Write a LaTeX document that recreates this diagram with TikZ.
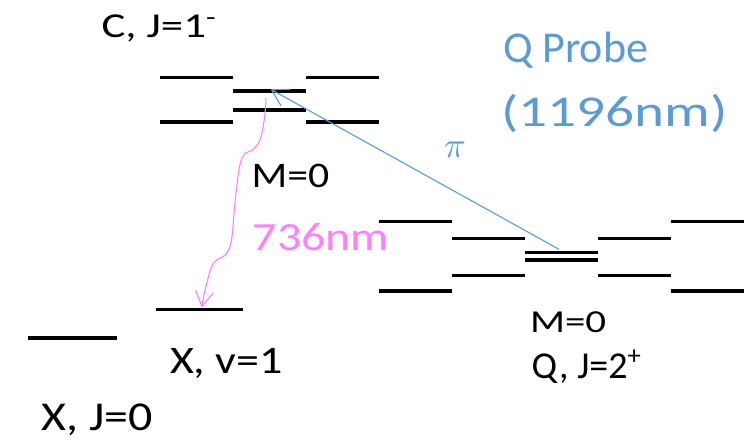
\documentclass[tikz,border=0pt]{standalone}
\usepackage{fontspec}
\usepackage{unicode-math}
\setmainfont{Carlito}
\setmathfont{Latin Modern Math}
\usetikzlibrary{arrows.meta}
\definecolor{probeblue}{RGB}{91,155,213}
\definecolor{decaypink}{RGB}{255,128,255}
\tikzset{
  lvl/.style={line width=3.4pt},
  lbl/.style={anchor=base west, inner sep=0pt, outer sep=0pt},
  probe/.style={draw=probeblue, line width=1.1pt, -{Straight Barb[length=16pt,width=19pt,line width=1.1pt]}},
  decay/.style={draw=decaypink, line width=1.1pt, -{Straight Barb[length=15pt,width=18pt,line width=1.1pt]}},
}
\begin{document}
\begin{tikzpicture}[x=1pt,y=-1pt]
\useasboundingbox (0,0) rectangle (746,441);
% C, J=1- levels
\draw[lvl] (160,77.7) -- (233,77.7);
\draw[lvl] (160,122) -- (233,122);
\draw[lvl] (233,91) -- (306,91);
\draw[lvl] (233,110) -- (306,110);
\draw[lvl] (306,77.7) -- (379,77.7);
\draw[lvl] (306,122) -- (379,122);
% Q, J=2+ levels
\draw[lvl] (379,221.7) -- (452,221.7);
\draw[lvl] (379,291) -- (452,291);
\draw[lvl] (452,238.3) -- (525,238.3);
\draw[lvl] (452,275.7) -- (525,275.7);
\draw[lvl] (525,252.3) -- (598,252.3);
\draw[lvl] (525,260) -- (598,260);
\draw[lvl] (598,238.3) -- (671,238.3);
\draw[lvl] (598,275.7) -- (671,275.7);
\draw[lvl] (671,221.7) -- (744,221.7);
\draw[lvl] (671,291) -- (744,291);
% X levels
\draw[lvl] (28.3,338) -- (116.7,338);
\draw[lvl] (155.7,309.3) -- (242.7,309.3);
% connector endpoints
\coordinate (qM0) at (559,249.3);
\coordinate (cM0) at (270.7,89.3);
\coordinate (cDecay) at (266,98);
\coordinate (xv1) at (201.7,307.5);
\draw[probe] (qM0) -- (cM0);
\draw[decay] plot[smooth, tension=0.55] coordinates {(cDecay) (264.5,118) (260,140) (252,150.5) (245,153.5) (239.5,166.7) (235,203) (231.5,240) (226,254.5) (218,259) (212,266) (205.5,288) (xv1)};
% labels
\node[lbl, font=\fontsize{35}{40}\selectfont] (cl) at (101.7,38) {\scalebox{1.28}[1]{C, J=1\textsuperscript{-}}};
\node[lbl, font=\fontsize{44}{50}\selectfont, text=probeblue] (qp) at (503,63) {Q Probe};
\node[lbl, font=\fontsize{44}{50}\selectfont, text=probeblue] (qw) at (501,126) {\scalebox{1.3}[1]{(1196nm)}};
\node[lbl, font=\fontsize{36}{40}\selectfont, text=probeblue] (pi) at (444,157) {$\pi$};
\node[lbl, font=\fontsize{36}{40}\selectfont] (m0c) at (251.7,187.3) {\scalebox{1.16}[1]{M=0}};
\node[lbl, font=\fontsize{40}{46}\selectfont, text=decaypink] (dw) at (252.7,250) {\scalebox{1.2}[1]{736nm}};
\node[lbl, font=\fontsize{32}{36}\selectfont] (m0q) at (530,332) {\scalebox{1.28}[1]{M=0}};
\node[lbl, font=\fontsize{38}{44}\selectfont] (ql) at (531.7,378) {Q, J=2\textsuperscript{+}};
\node[lbl, font=\fontsize{39}{44}\selectfont] (xv) at (170,373) {\scalebox{1.18}[1]{X, v=1}};
\node[lbl, font=\fontsize{41}{46}\selectfont] (xj) at (41.7,430) {\scalebox{1.17}[1]{X, J=0}};
\end{tikzpicture}
\end{document}
